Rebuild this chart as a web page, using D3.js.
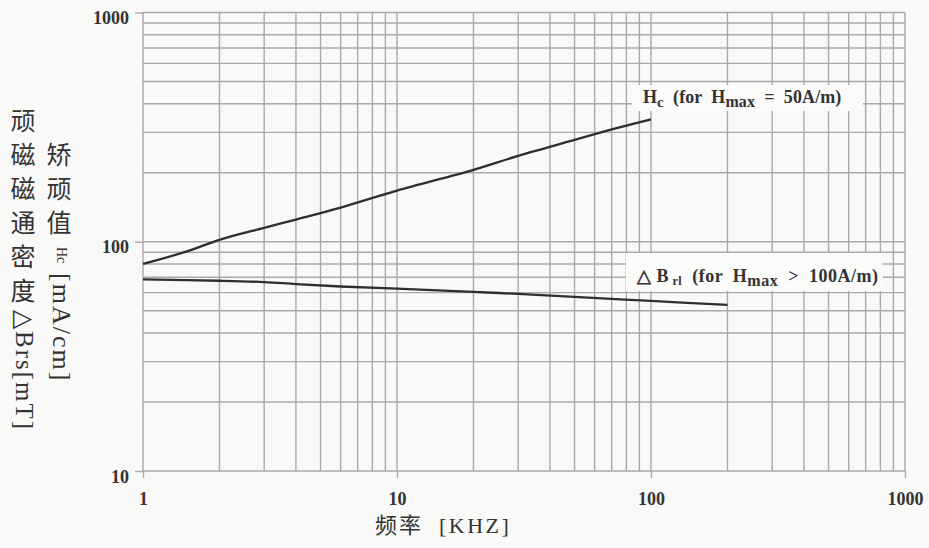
<!DOCTYPE html>
<html>
<head>
<meta charset="utf-8">
<script src="https://cdn.jsdelivr.net/npm/d3@7"></script>
<style>
  body { margin: 0; background: #f9f9f7; }
  svg { display: block; }
</style>
</head>
<body>
<script>
// values (log-log)
var hcFreq = [1, 1.5, 2, 3, 4, 6, 10, 20, 30, 50, 70, 100];
var hcValues = [80, 91, 102, 115, 125, 141, 167, 206, 237, 278, 309, 342];

var brFreq = [1, 2, 3, 4, 6, 10, 20, 30, 50, 100, 200];
var brValues = [68.5, 67.6, 66.7, 65.4, 63.8, 62.4, 60.5, 59.2, 57.5, 55.2, 53];

var xTicks = [1, 10, 100, 1000];
var yTicks = [10, 100, 1000];

var leftTitle = ["顽", "磁", "磁", "通", "密", "度"];
var rightTitle = ["矫", "顽", "值"];

var w = 929;
var h = 548;

var svg = d3.select("body")
            .append("svg")
            .attr("width", w)
            .attr("height", h);

var x = d3.scaleLog().domain([1, 1000]).range([143, 905]);
var y = d3.scaleLog().domain([10, 1000]).range([471, 12.5]);

var gridColor = "#a9a9a9";

// grid lines at 1..9 per decade
function gridValues(lo, hi) {
  var vals = [];
  for (var d = lo; d < hi; d *= 10) {
    for (var k = 1; k < 10; k++) vals.push(k * d);
  }
  vals.push(hi);
  return vals;
}

var grid = svg.append("g");

grid.selectAll("line.v")
    .data(gridValues(1, 1000))
    .enter()
    .append("line")
    .attr("class", "v")
    .attr("x1", function(d){ return x(d); })
    .attr("x2", function(d){ return x(d); })
    .attr("y1", y(1000))
    .attr("y2", y(10))
    .attr("stroke", gridColor)
    .attr("stroke-width", 1.4);

grid.selectAll("line.h")
    .data(gridValues(10, 1000))
    .enter()
    .append("line")
    .attr("class", "h")
    .attr("x1", x(1))
    .attr("x2", x(1000))
    .attr("y1", function(d){ return y(d); })
    .attr("y2", function(d){ return y(d); })
    .attr("stroke", gridColor)
    .attr("stroke-width", 1.4);

// axes
var xAxis = svg.append("g")
   .attr("transform", "translate(0," + y(10) + ")")
   .call(d3.axisBottom(x).tickValues(xTicks).tickSize(7).tickPadding(14)
         .tickFormat(d3.format("d")));

var yAxis = svg.append("g")
   .attr("transform", "translate(" + x(1) + ",0)")
   .call(d3.axisLeft(y).tickValues(yTicks).tickSize(8).tickPadding(6)
         .tickFormat(d3.format("d")));

[xAxis, yAxis].forEach(function(a){
  a.select(".domain").remove();
  a.selectAll(".tick line").attr("stroke", gridColor).attr("stroke-width", 1.4);
  a.selectAll(".tick text")
   .attr("fill", "#333")
   .style("font-family", "'Liberation Serif', serif")
   .style("font-weight", "bold")
   .style("font-size", "18px");
});
yAxis.selectAll(".tick text").attr("dy", "0.62em");

// curves
var line = d3.line()
             .x(function(d){ return x(d[0]); })
             .y(function(d){ return y(d[1]); })
             .curve(d3.curveCatmullRom);

svg.append("path")
   .datum(d3.zip(hcFreq, hcValues))
   .attr("d", line)
   .attr("fill", "none")
   .attr("stroke", "#2e2e2e")
   .attr("stroke-width", 2.3);

svg.append("path")
   .datum(d3.zip(brFreq, brValues))
   .attr("d", line)
   .attr("fill", "none")
   .attr("stroke", "#2e2e2e")
   .attr("stroke-width", 2.3);

// curve labels on white boxes
var labelFont = "'Liberation Serif', serif";

svg.append("rect")
   .attr("x", 632).attr("y", 85).attr("width", 231).attr("height", 26)
   .attr("fill", "#fbfbfa");

var hcLabel = svg.append("text")
   .attr("x", 643).attr("y", 103)
   .attr("fill", "#333")
   .style("font-family", labelFont)
   .style("font-weight", "bold")
   .style("font-size", "18px")
   .style("letter-spacing", "0.1px")
   .attr("xml:space", "preserve");
hcLabel.append("tspan").text("H");
hcLabel.append("tspan").attr("dy", 4).style("font-size", "15px").text("c");
hcLabel.append("tspan").attr("dy", -4).text("  (for  H");
hcLabel.append("tspan").attr("dy", 4).style("font-size", "16px").text("max");
hcLabel.append("tspan").attr("dy", -4).text("  =  50A/m)");

svg.append("rect")
   .attr("x", 626).attr("y", 253).attr("width", 257).attr("height", 38)
   .attr("fill", "#fbfbfa");

var brLabel = svg.append("text")
   .attr("x", 637).attr("y", 282)
   .attr("fill", "#333")
   .style("font-family", labelFont)
   .style("font-weight", "bold")
   .style("font-size", "18px")
   .style("letter-spacing", "0.5px")
   .attr("xml:space", "preserve");
brLabel.append("tspan").text("△ B");
brLabel.append("tspan").attr("dy", 3).style("font-size", "12px").text(" rl");
brLabel.append("tspan").attr("dy", -3).text("  (for  H");
brLabel.append("tspan").attr("dy", 4).style("font-size", "16px").text("max");
brLabel.append("tspan").attr("dy", -4).text("  >  100A/m)");

// axis titles
var cjk = "'Noto Sans CJK SC', sans-serif";

svg.selectAll("text.lt")
   .data(leftTitle)
   .enter()
   .append("text")
   .attr("class", "lt")
   .attr("x", 23)
   .attr("y", function(d, i){ return 119 + i * 34; })
   .attr("text-anchor", "middle")
   .attr("dominant-baseline", "central")
   .attr("fill", "#333")
   .style("font-family", cjk)
   .style("font-size", "25px")
   .text(function(d){ return d; });

svg.selectAll("text.rt")
   .data(rightTitle)
   .enter()
   .append("text")
   .attr("class", "rt")
   .attr("x", 59)
   .attr("y", function(d, i){ return 153 + i * 34; })
   .attr("text-anchor", "middle")
   .attr("dominant-baseline", "central")
   .attr("fill", "#333")
   .style("font-family", cjk)
   .style("font-size", "25px")
   .text(function(d){ return d; });

svg.append("text")
   .attr("transform", "translate(24,310) rotate(90)")
   .attr("dominant-baseline", "central")
   .attr("fill", "#333")
   .style("font-family", labelFont)
   .style("font-size", "25px")
   .style("letter-spacing", "2px")
   .text("△Brs[mT]");

svg.append("text")
   .attr("transform", "translate(61,247) rotate(90)")
   .attr("dominant-baseline", "central")
   .attr("fill", "#333")
   .style("font-family", labelFont)
   .style("font-size", "14px")
   .text("Hc");

svg.append("text")
   .attr("transform", "translate(61,273) rotate(90)")
   .attr("dominant-baseline", "central")
   .attr("fill", "#333")
   .style("font-family", labelFont)
   .style("font-size", "26px")
   .style("letter-spacing", "2px")
   .text("[mA/cm]");

var xTitle = svg.append("text")
   .attr("x", 375).attr("y", 533)
   .attr("fill", "#333");
xTitle.append("tspan")
   .style("font-family", cjk)
   .style("font-size", "22px")
   .style("letter-spacing", "2px")
   .text("频率");
xTitle.append("tspan")
   .attr("dx", 16)
   .style("font-family", labelFont)
   .style("font-size", "22px")
   .style("letter-spacing", "2.5px")
   .text("[KHZ]");
</script>
</body>
</html>
